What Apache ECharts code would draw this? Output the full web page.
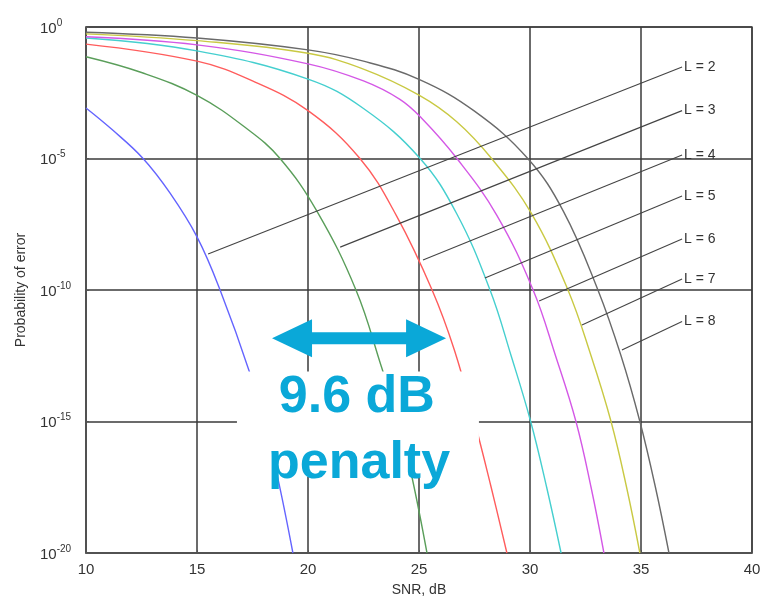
<!DOCTYPE html>
<html>
<head>
<meta charset="utf-8">
<script src="https://cdn.jsdelivr.net/npm/echarts@6/dist/echarts.min.js"></script>
<style>
  html, body { margin: 0; padding: 0; background: #fff; }
  #chart { width: 769px; height: 602px; }
</style>
</head>
<body>
<div id="chart"></div>
<script>
// SNR (dB) and log10(probability of error)
const snrL2 = [10, 11.2, 12.57, 13.78, 15.0, 16.04, 17.4, 18.0, 18.6, 19.32]
const logPeL2 = [-3.08, -3.92, -5.0, -6.31, -7.98, -10.0, -13.2, -15.0, -17.0, -20]

const snrL3 = [10, 12.5, 15, 17.25, 18.74, 20.4, 22.16, 23.3, 24.1, 24.68, 25.36]
const logPeL3 = [-1.13, -1.73, -2.6, -3.87, -5.0, -7.0, -10, -12.9, -15.1, -17.1, -20]

const snrL4 = [10, 15, 17.5, 20, 22.34, 24.0, 25.59, 26.6, 27.5, 28.25, 28.96]
const logPeL4 = [-0.65, -1.3, -2.05, -3.18, -5.0, -7.2, -10, -12.3, -15, -17.5, -20]

const snrL5 = [10, 15, 20, 22.5, 25.05, 26.7, 28.2, 29.15, 30.03, 30.75, 31.4]
const logPeL5 = [-0.42, -0.91, -1.98, -3.1, -5.0, -7.1, -10, -12.5, -15, -17.5, -20]

const snrL6 = [10, 15, 20, 22.5, 24.14, 25.1, 26.71, 28.5, 30.14, 31.15, 32.07, 32.75, 33.33]
const logPeL6 = [-0.37, -0.68, -1.4, -2.05, -2.75, -3.45, -5.0, -7.15, -10, -12.5, -15, -17.5, -20]

const snrL7 = [10, 15, 20, 22.5, 25, 26.7, 28.27, 30.05, 31.71, 32.75, 33.65, 34.35, 34.95]
const logPeL7 = [-0.26, -0.52, -1.0, -1.6, -2.59, -3.6, -5.0, -7.07, -10, -12.5, -15, -17.5, -20]

const snrL8 = [10, 15, 20, 22.5, 25, 27.5, 29.9, 31.5, 33.06, 34.1, 34.95, 35.65, 36.26]
const logPeL8 = [-0.2, -0.42, -0.87, -1.3, -1.99, -3.2, -5.0, -7.0, -10, -12.5, -15, -17.5, -20]

const curveNames = ['L = 2', 'L = 3', 'L = 4', 'L = 5', 'L = 6', 'L = 7', 'L = 8']
const curveColors = ['#6464ff', '#5a9e5a', '#ff5c5c', '#45cfcf', '#d458e6', '#c9c943', '#6a6a6a']
const curveSnr = [snrL2, snrL3, snrL4, snrL5, snrL6, snrL7, snrL8]
const curveLogPe = [logPeL2, logPeL3, logPeL4, logPeL5, logPeL6, logPeL7, logPeL8]

// leader lines: label end (right) and point on the curve (left)
const labelSnr = 36.85
const labelLogPe = [-1.52, -3.18, -4.87, -6.43, -8.06, -9.58, -11.2]
const leaderSnr = [15.5, 21.45, 25.18, 27.97, 30.41, 32.34, 34.14]
const leaderLogPe = [-8.63, -8.37, -8.86, -9.54, -10.42, -11.33, -12.28]

// annotation: 9.6 dB penalty (white box, arrow, text) in data units
const boxSnr = [16.8, 27.7]
const boxLogPe = [-13.1, -17.1]
const arrowSnr = [18.38, 26.22]
const arrowLogPe = -11.83
const penaltyLines = ['9.6 dB', 'penalty']
const penaltySnr = [22.2, 22.3]
const penaltyLogPe = [-14.1, -16.6]

const pe = (e) => Math.pow(10, e)
const font = "'Liberation Sans', Arial, sans-serif"
const accent = '#0aa8d8'

const chart = echarts.init(document.getElementById('chart'))

const curveSeries = curveNames.map((name, i) => ({
  name,
  type: 'line',
  data: curveSnr[i].map((x, k) => [x, pe(curveLogPe[i][k])]),
  smooth: 0.4,
  showSymbol: false,
  symbol: 'none',
  silent: true,
  lineStyle: { color: curveColors[i], width: 1.4 },
  z: 3
}))

const leaderSeries = curveNames.map((name, i) => ({
  type: 'line',
  data: [
    {
      value: [labelSnr, pe(labelLogPe[i])],
      label: {
        show: true,
        position: 'right',
        distance: 2,
        formatter: name,
        color: '#333',
        fontSize: 14,
        fontFamily: font
      }
    },
    [leaderSnr[i], pe(leaderLogPe[i])]
  ],
  symbol: 'circle',
  symbolSize: 0,
  showSymbol: true,
  silent: true,
  lineStyle: { color: '#444', width: 1.1 },
  z: 4
}))

chart.setOption({
  animation: false,
  textStyle: { fontFamily: font },
  grid: {
    left: 86,
    right: 17,
    top: 27,
    bottom: 49,
    show: true,
    borderColor: '#555',
    borderWidth: 1.5
  },
  xAxis: {
    type: 'value',
    min: 10,
    max: 40,
    interval: 5,
    name: 'SNR, dB',
    nameLocation: 'middle',
    nameGap: 30,
    nameTextStyle: { color: '#333', fontSize: 14 },
    axisLine: { lineStyle: { color: '#555', width: 1.5 } },
    axisTick: { inside: true, length: 3, lineStyle: { color: '#555' } },
    axisLabel: { color: '#333', fontSize: 15, margin: 9 },
    splitLine: { show: true, lineStyle: { color: '#3a3a3a', width: 1.5 } }
  },
  yAxis: {
    type: 'log',
    logBase: 10,
    min: 1e-20,
    max: 1,
    interval: 5,
    name: 'Probability of error',
    nameLocation: 'middle',
    nameGap: 58,
    nameTextStyle: { color: '#333', fontSize: 14 },
    axisLine: { lineStyle: { color: '#555', width: 1.5 } },
    axisTick: { inside: true, length: 3, lineStyle: { color: '#555' } },
    axisLabel: {
      color: '#333',
      align: 'left',
      margin: 46,
      formatter: (v) => '{b|10}{s|' + Math.round(Math.log10(v)) + '}',
      rich: {
        b: { fontSize: 15, color: '#333', lineHeight: 18, verticalAlign: 'bottom' },
        s: { fontSize: 10, color: '#333', lineHeight: 18, verticalAlign: 'top' }
      }
    },
    splitLine: { show: true, lineStyle: { color: '#3a3a3a', width: 1.5 } }
  },
  series: curveSeries.concat(leaderSeries)
})

// annotation graphics placed through the axes
const toPx = (x, e) => chart.convertToPixel({ gridIndex: 0 }, [x, pe(e)])
const b0 = toPx(boxSnr[0], boxLogPe[0])
const b1 = toPx(boxSnr[1], boxLogPe[1])
const a0 = toPx(arrowSnr[0], arrowLogPe)
const a1 = toPx(arrowSnr[1], arrowLogPe)
const head = 40
const headHalf = 19
const shaftHalf = 6
const ay = a0[1]

chart.setOption({
  graphic: [
    {
      type: 'rect',
      z: 20,
      silent: true,
      shape: { x: b0[0], y: b0[1], width: b1[0] - b0[0], height: b1[1] - b0[1] },
      style: { fill: '#fff' }
    },
    {
      type: 'polygon',
      z: 21,
      silent: true,
      shape: {
        points: [
          [a0[0], ay],
          [a0[0] + head, ay - headHalf],
          [a0[0] + head, ay - shaftHalf],
          [a1[0] - head, ay - shaftHalf],
          [a1[0] - head, ay - headHalf],
          [a1[0], ay],
          [a1[0] - head, ay + headHalf],
          [a1[0] - head, ay + shaftHalf],
          [a0[0] + head, ay + shaftHalf],
          [a0[0] + head, ay + headHalf]
        ]
      },
      style: { fill: accent }
    }
  ].concat(penaltyLines.map((t, i) => {
    const p = toPx(penaltySnr[i], penaltyLogPe[i])
    return {
      type: 'text',
      z: 22,
      silent: true,
      x: p[0],
      y: p[1],
      style: {
        text: t,
        fill: accent,
        font: 'bold 52px ' + font,
        align: 'center',
        verticalAlign: 'middle'
      }
    }
  }))
})
</script>
</body>
</html>
